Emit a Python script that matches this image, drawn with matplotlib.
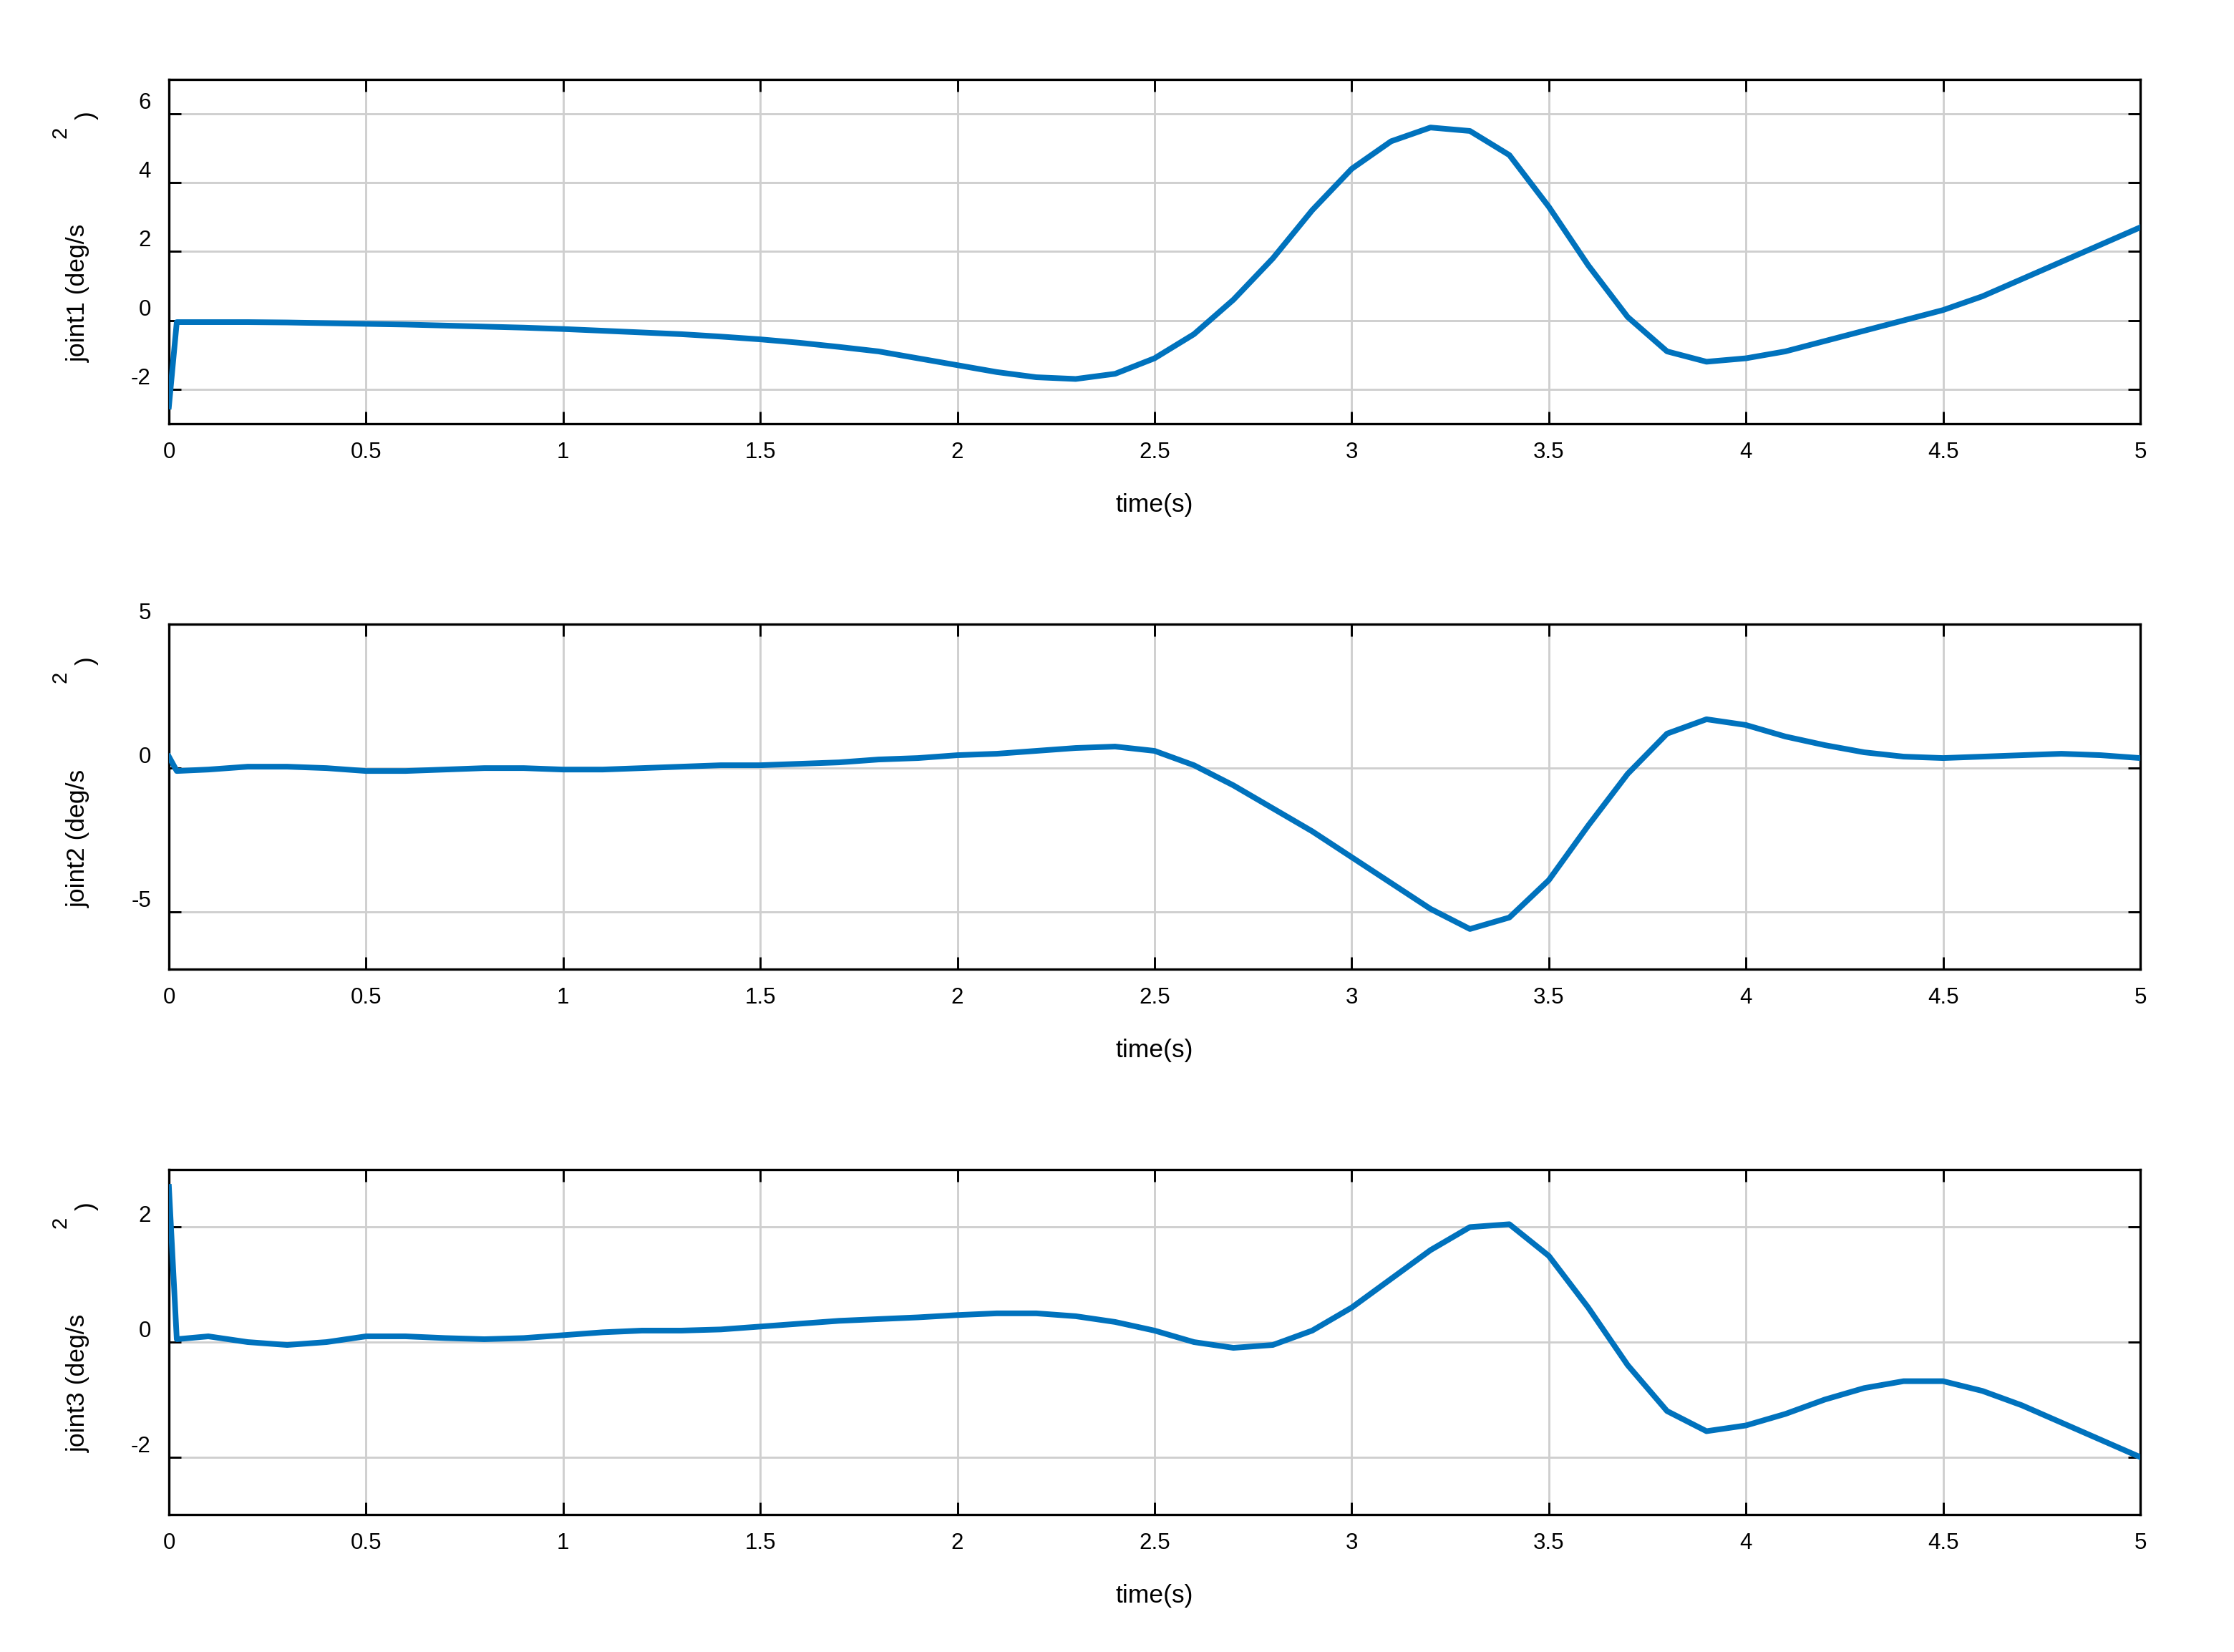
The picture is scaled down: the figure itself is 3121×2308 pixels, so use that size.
import matplotlib
matplotlib.use("Agg")
import matplotlib.pyplot as plt
import numpy as np

t = [0, 0.02] + [round(0.1*i, 1) for i in range(1, 51)]
joint1 = [-2.5, -0.05, -0.05, -0.05, -0.06, -0.08, -0.1, -0.12, -0.15, -0.18, -0.21, -0.25,
          -0.3, -0.35, -0.4, -0.47, -0.55, -0.65, -0.77, -0.9, -1.1, -1.3,
          -1.5, -1.65, -1.7, -1.55, -1.1, -0.4, 0.6, 1.8, 3.2, 4.4,
          5.2, 5.6, 5.5, 4.8, 3.3, 1.6, 0.1, -0.9, -1.2, -1.1,
          -0.9, -0.6, -0.3, 0.0, 0.3, 0.7, 1.2, 1.7, 2.2, 2.7]
joint2 = [0.4, -0.1, -0.05, 0.05, 0.05, 0.0, -0.1, -0.1, -0.05, 0.0, 0.0, -0.05,
          -0.05, 0.0, 0.05, 0.1, 0.1, 0.15, 0.2, 0.3, 0.35, 0.45,
          0.5, 0.6, 0.7, 0.75, 0.6, 0.1, -0.6, -1.4, -2.2, -3.1,
          -4.0, -4.9, -5.6, -5.2, -3.9, -2.0, -0.2, 1.2, 1.7, 1.5,
          1.1, 0.8, 0.55, 0.4, 0.35, 0.4, 0.45, 0.5, 0.45, 0.35]
joint3 = [2.7, 0.05, 0.1, 0.0, -0.05, 0.0, 0.1, 0.1, 0.07, 0.05, 0.07, 0.12,
          0.17, 0.2, 0.2, 0.22, 0.27, 0.32, 0.37, 0.4, 0.43, 0.47,
          0.5, 0.5, 0.45, 0.35, 0.2, 0.0, -0.1, -0.05, 0.2, 0.6,
          1.1, 1.6, 2.0, 2.05, 1.5, 0.6, -0.4, -1.2, -1.55, -1.45,
          -1.25, -1.0, -0.8, -0.68, -0.68, -0.85, -1.1, -1.4, -1.7, -2.0]

series = [joint1, joint2, joint3]
labels = ["joint1 (deg/s", "joint2 (deg/s", "joint3 (deg/s"]
ylims = [(-3, 7), (-7, 5), (-3, 3)]
yticks = [[-2, 0, 2, 4, 6], [-5, 0, 5], [-2, 0, 2]]
xticks = [0, 0.5, 1, 1.5, 2, 2.5, 3, 3.5, 4, 4.5, 5]
xticklabels = ["0", "0.5", "1", "1.5", "2", "2.5", "3", "3.5", "4", "4.5", "5"]

plt.rcParams['font.family'] = ['Liberation Sans', 'DejaVu Sans']
plt.rcParams['axes.unicode_minus'] = False
fig = plt.figure(figsize=(3121/300, 2308/300), dpi=300)
boxes = [(0.952, 0.7435), (0.622, 0.4133), (0.292, 0.0832)]
L, R = 0.0756, 0.958
for i, (top, bot) in enumerate(boxes):
    ax = fig.add_axes([L, bot, R-L, top-bot])
    ax.plot(t, series[i], color='#0072BD', lw=1.9, zorder=3, solid_joinstyle='round')
    ax.set_xlim(0, 5)
    ax.set_ylim(*ylims[i])
    ax.set_xticks(xticks)
    ax.set_xticklabels(xticklabels)
    ax.set_yticks(yticks[i])
    ax.grid(True, color='#cfcfcf', lw=0.7)
    ax.tick_params(direction='in', top=True, right=True, labelsize=7.5,
                   length=4, width=0.7, pad=6)
    for lab in ax.get_yticklabels():
        lab.set_va('bottom')
    for s in ax.spines.values():
        s.set_linewidth(0.8)
    ax.set_xlabel("time(s)", fontsize=8.5, labelpad=10)
    ax.set_ylabel(labels[i], fontsize=8.5, labelpad=12)
    ax.yaxis.set_label_coords(-0.04, 0.38)
    ytop = top
    fig.text(0.027, ytop - 0.032, "2", rotation=90, fontsize=7, ha='center', va='center')
    fig.text(0.039, ytop - 0.022, ")", rotation=90, fontsize=8.5, ha='center', va='center')

fig.savefig("out.png", dpi=300)
